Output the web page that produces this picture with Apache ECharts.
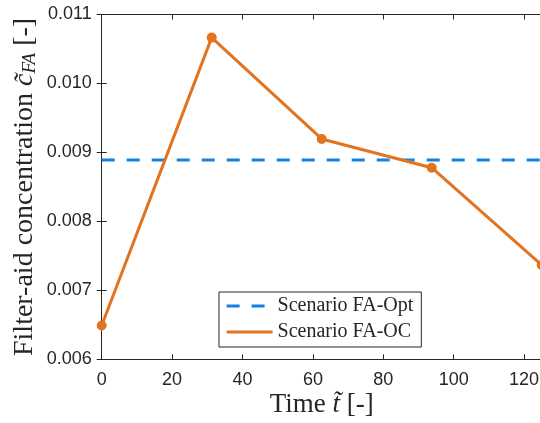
<!DOCTYPE html>
<html>
<head>
<meta charset="utf-8">
<script src="https://cdn.jsdelivr.net/npm/echarts@6/dist/echarts.min.js"></script>
<style>
  html, body { margin: 0; padding: 0; background: #ffffff; }
  #chart { width: 540px; height: 423px; }
</style>
</head>
<body>
<div id="chart"></div>
<script>
// Filter-aid concentration over dimensionless time
const timePoints = [0, 31.25, 62.5, 93.75, 125];
const concentrationOC = [0.00649, 0.010665, 0.009195, 0.008778, 0.007368];
const optimumLevel = 0.00889;
const optimumTimes = [0, 125];
const seriesNames = ['Scenario FA-Opt', 'Scenario FA-OC'];
const xTicks = [0, 20, 40, 60, 80, 100, 120];
const yTicks = [0.006, 0.007, 0.008, 0.009, 0.010, 0.011];

const axisColor = '#262626';
const serif = 'Liberation Serif';
const sans = 'Liberation Sans';

const chart = echarts.init(document.getElementById('chart'), null, { renderer: 'canvas' });

const baseX = {
  type: 'value',
  min: xTicks[0],
  max: timePoints[timePoints.length - 1],
  interval: xTicks[1] - xTicks[0],
  axisLine: { show: true, lineStyle: { color: axisColor, width: 1 } },
  axisTick: { show: true, inside: true, length: 5, lineStyle: { color: axisColor, width: 1 } },
  splitLine: { show: false }
};
const baseY = {
  type: 'value',
  min: yTicks[0],
  max: yTicks[yTicks.length - 1],
  interval: 0.001,
  axisLine: { show: true, lineStyle: { color: axisColor, width: 1 } },
  axisTick: { show: true, inside: true, length: 5, lineStyle: { color: axisColor, width: 1 } },
  splitLine: { show: false }
};

chart.setOption({
  animation: false,
  backgroundColor: '#ffffff',
  grid: {
    left: 101.7, right: -1.7, top: 14.5, bottom: 63.7,
    containLabel: false, outerBoundsMode: 'none'
  },
  xAxis: [
    Object.assign({}, baseX, {
      position: 'bottom',
      name: 'Time {it|t\u0303} [-]',
      nameLocation: 'middle',
      nameGap: 32,
      nameMoveOverlap: false,
      nameTextStyle: {
        fontFamily: serif, fontSize: 27, color: axisColor,
        rich: { it: { fontFamily: serif, fontStyle: 'italic', fontSize: 27, color: axisColor } }
      },
      axisLabel: {
        show: true, margin: 12, fontFamily: sans, fontSize: 18, color: axisColor,
        formatter: v => (xTicks.indexOf(v) >= 0 ? String(v) : '')
      }
    }),
    Object.assign({}, baseX, { position: 'top', axisLabel: { show: false } })
  ],
  yAxis: [
    Object.assign({}, baseY, {
      position: 'left',
      name: 'Filter-aid concentration {it|c\u0303}{sub|FA} [-]',
      nameLocation: 'middle',
      nameRotate: 90,
      nameGap: 62,
      nameMoveOverlap: false,
      nameTextStyle: {
        fontFamily: serif, fontSize: 28, color: axisColor,
        rich: {
          it: { fontFamily: serif, fontStyle: 'italic', fontSize: 28, color: axisColor },
          sub: { fontFamily: serif, fontStyle: 'italic', fontSize: 19, color: axisColor, padding: [11, 0, 0, 0] }
        }
      },
      axisLabel: {
        show: true, margin: 10, fontFamily: sans, fontSize: 18, color: axisColor,
        formatter: v => v.toFixed(3)
      }
    }),
    Object.assign({}, baseY, { position: 'right', axisLabel: { show: false } })
  ],
  legend: {
    orient: 'vertical',
    left: 219,
    top: 292,
    data: seriesNames,
    backgroundColor: '#ffffff',
    borderColor: axisColor,
    borderWidth: 1,
    borderRadius: 0,
    padding: [4, 8, 5, 6],
    itemGap: 6,
    itemWidth: 46,
    itemHeight: 14,
    itemStyle: { opacity: 0 },
    lineStyle: { width: 3.2 },
    textStyle: { fontFamily: serif, fontSize: 20, color: axisColor, lineHeight: 20 }
  },
  series: [
    {
      name: seriesNames[0],
      type: 'line',
      xAxisIndex: 0,
      yAxisIndex: 0,
      data: optimumTimes.map(t => [t, optimumLevel]),
      symbol: 'none',
      lineStyle: { color: '#1380e2', width: 3.2, type: [13, 12] },
      itemStyle: { color: '#1380e2' },
      z: 2
    },
    {
      name: seriesNames[1],
      type: 'line',
      xAxisIndex: 0,
      yAxisIndex: 0,
      data: timePoints.map((t, i) => [t, concentrationOC[i]]),
      symbol: 'circle',
      symbolSize: 10,
      lineStyle: { color: '#e2731f', width: 3 },
      itemStyle: { color: '#e2731f' },
      z: 3
    }
  ]
});
</script>
</body>
</html>
